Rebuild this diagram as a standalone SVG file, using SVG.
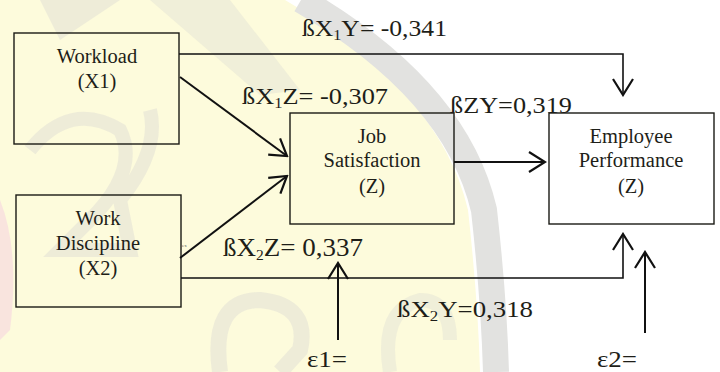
<svg xmlns="http://www.w3.org/2000/svg" width="720" height="372" viewBox="0 0 720 372">
  <style>
    text { font-family: 'Liberation Serif', serif; }
    .box { fill: none; stroke: #1a1a14; stroke-width: 1.4; }
    .nt { font-size: 20.5px; fill: #1e1e18; text-anchor: middle; }
    .lb { font-size: 24px; fill: #1e1e18; }
    .sub { font-size: 15px; }
    .ln { fill: none; stroke: #111; stroke-width: 2; }
  </style>
  <defs>
    <marker id="arr" markerUnits="userSpaceOnUse" viewBox="0 0 20 24" refX="18" refY="12" markerWidth="20" markerHeight="24" orient="auto">
      <path d="M2,2 L18,12 L2,22" fill="none" stroke="#111" stroke-width="2.2"/>
    </marker>
  </defs>

  <g id="background">
    <rect x="0" y="0" width="720" height="372" fill="#ffffff"/>
    <path d="M0,0 H285 Q440,90 468,210 Q478,300 480,372 H0 Z" fill="#fdfbdc"/>
    <path d="M285,0 Q440,90 468,210 Q478,300 480,372" fill="none" stroke="#e2e2e0" stroke-width="26" transform="translate(16,0)"/>
    <path d="M0,200 Q20,250 10,330 L0,340 Z" fill="#f7dede" opacity="0.8"/>
    <path d="M40,0 L120,0 L60,40 Z" fill="#e4e3d6" opacity="0.6"/>
    <path d="M150,0 L230,0 L300,90 L260,95 Z" fill="#e4e3d6" opacity="0.5"/>
    <path d="M30,150 Q70,100 120,130 Q140,170 90,220 L60,250 L130,250 L120,200 Q160,150 150,110" fill="none" stroke="#e4e3d6" stroke-width="14" opacity="0.6"/>
    <path d="M220,372 Q210,300 260,300 Q310,305 300,350 L280,372" fill="none" stroke="#e4e3d6" stroke-width="16" opacity="0.6"/>
    <path d="M390,372 Q380,310 420,300 Q450,300 450,340" fill="none" stroke="#e4e3d6" stroke-width="14" opacity="0.5"/>
  </g>

  <g id="node-workload">
    <rect class="box" x="14" y="33" width="165" height="111"/>
    <text class="nt" x="97" y="63">Workload</text>
    <text class="nt" x="97" y="88">(X1)</text>
  </g>

  <g id="node-discipline">
    <rect class="box" x="16" y="195" width="165" height="112"/>
    <text class="nt" x="98" y="225">Work</text>
    <text class="nt" x="98" y="250">Discipline</text>
    <text class="nt" x="98" y="275">(X2)</text>
    <text x="182" y="247" font-size="5" fill="#555">ex</text>
  </g>

  <g id="node-satisfaction">
    <rect class="box" x="290" y="113" width="164" height="111"/>
    <text class="nt" x="372" y="143">Job</text>
    <text class="nt" x="372" y="167">Satisfaction</text>
    <text class="nt" x="372" y="193">(Z)</text>
  </g>

  <g id="node-performance">
    <rect class="box" x="549" y="113" width="165" height="111" style="fill:#ffffff"/>
    <text class="nt" x="631" y="143">Employee</text>
    <text class="nt" x="631" y="167">Performance</text>
    <text class="nt" x="631" y="193">(Z)</text>
  </g>

  <g id="connectors">
    <path class="ln" d="M179,54 H623 V95" marker-end="url(#arr)" style="stroke-width:1.6"/>
    <path class="ln" d="M180,77 L287,156" marker-end="url(#arr)"/>
    <path class="ln" d="M180,258 L287,176" marker-end="url(#arr)"/>
    <path class="ln" d="M454,162 H545" marker-end="url(#arr)"/>
    <path class="ln" d="M181,278 H623 V234" marker-end="url(#arr)" style="stroke-width:1.6"/>
    <path class="ln" d="M338,340 V263" marker-end="url(#arr)"/>
    <path class="ln" d="M645,333 V252" marker-end="url(#arr)"/>
  </g>

  <g id="labels">
    <text class="lb" x="302" y="36" textLength="145" lengthAdjust="spacingAndGlyphs">ßX<tspan class="sub" dy="4">1</tspan><tspan dy="-4">Y= -0,341</tspan></text>
    <text class="lb" x="242" y="104" textLength="146" lengthAdjust="spacingAndGlyphs">ßX<tspan class="sub" dy="4">1</tspan><tspan dy="-4">Z= -0,307</tspan></text>
    <text class="lb" x="450" y="113" textLength="122" lengthAdjust="spacingAndGlyphs">ßZY=0,319</text>
    <text class="lb" x="223" y="256" textLength="140" lengthAdjust="spacingAndGlyphs" style="font-size:26px">ßX<tspan class="sub" dy="4">2</tspan><tspan dy="-4">Z= 0,337</tspan></text>
    <text class="lb" x="397" y="317" textLength="136" lengthAdjust="spacingAndGlyphs">ßX<tspan class="sub" dy="4">2</tspan><tspan dy="-4">Y=0,318</tspan></text>
    <text class="lb" x="307" y="367" textLength="40" lengthAdjust="spacingAndGlyphs">ε1=</text>
    <text class="lb" x="597" y="367" textLength="40" lengthAdjust="spacingAndGlyphs">ε2=</text>
  </g>
</svg>
